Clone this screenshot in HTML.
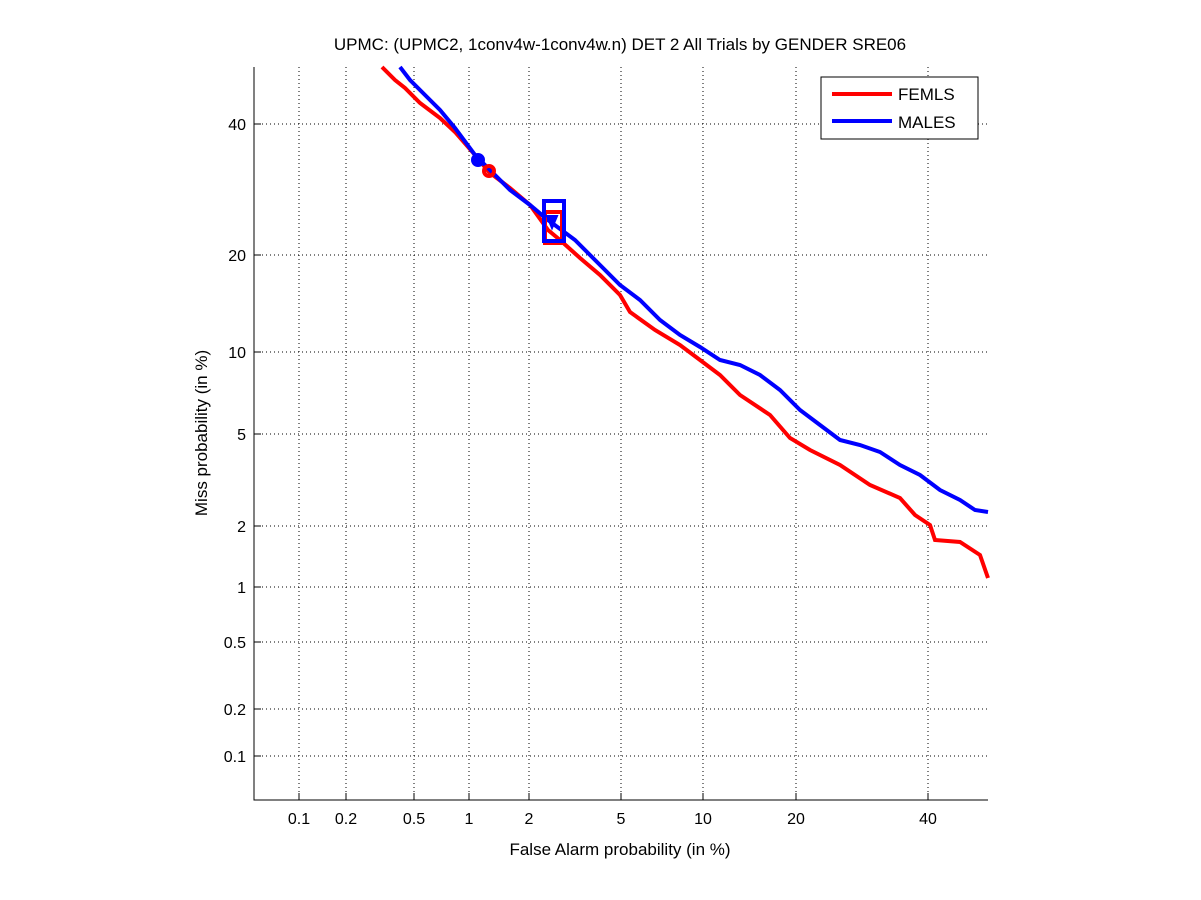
<!DOCTYPE html>
<html><head><style>body{margin:0;background:#fff}svg{display:block}text{font-family:"Liberation Sans",sans-serif}</style></head><body>
<svg width="1201" height="900" xmlns="http://www.w3.org/2000/svg">
<rect width="1201" height="900" fill="#fff"/>
<g stroke="#000" stroke-width="1" stroke-dasharray="1,3" fill="none">
<path d="M299 67V800M346 67V800M414 67V800M469 67V800M529 67V800M621 67V800M703 67V800M796 67V800M928 67V800"/>
<path d="M254 124H988M254 255H988M254 352H988M254 434H988M254 526H988M254 587H988M254 642H988M254 709H988M254 756H988"/>
</g>
<path d="M254 67V800H988" stroke="#000" fill="none"/>
<g stroke="#000"><path d="M299 800v-7M346 800v-7M414 800v-7M469 800v-7M529 800v-7M621 800v-7M703 800v-7M796 800v-7M928 800v-7M254 124h7M254 255h7M254 352h7M254 434h7M254 526h7M254 587h7M254 642h7M254 709h7M254 756h7"/></g>
<g font-size="16" text-anchor="middle">
<text x="299" y="824">0.1</text><text x="346" y="824">0.2</text><text x="414" y="824">0.5</text><text x="469" y="824">1</text><text x="529" y="824">2</text><text x="621" y="824">5</text><text x="703" y="824">10</text><text x="796" y="824">20</text><text x="928" y="824">40</text>
</g>
<g font-size="16" text-anchor="end">
<text x="246" y="130">40</text><text x="246" y="261">20</text><text x="246" y="358">10</text><text x="246" y="440">5</text><text x="246" y="532">2</text><text x="246" y="593">1</text><text x="246" y="648">0.5</text><text x="246" y="715">0.2</text><text x="246" y="762">0.1</text>
</g>
<text x="620" y="855" font-size="17" text-anchor="middle">False Alarm probability (in %)</text>
<text transform="translate(207,433) rotate(-90)" font-size="17" text-anchor="middle">Miss probability (in %)</text>
<text x="620" y="50" font-size="17" text-anchor="middle">UPMC: (UPMC2, 1conv4w-1conv4w.n) DET 2 All Trials by GENDER SRE06</text>
<polyline fill="none" stroke="#f00" stroke-width="4" points="382,67 395,80 405,88 420,103 440,118 455,132 475,155 489,172 510,188 530,205 548,230 560,240 580,258 600,275 620,295 630,312 655,330 680,345 700,360 720,375 740,395 770,415 790,438 810,450 840,465 870,485 900,498 915,515 930,525 935,540 960,542 980,555 988,578"/>
<polyline fill="none" stroke="#00f" stroke-width="4" points="400,67 410,80 425,95 440,110 455,128 475,155 490,170 510,190 530,205 548,220 575,240 600,265 620,285 640,300 660,320 680,335 700,347 720,360 740,365 760,375 780,390 800,410 820,425 840,440 860,445 880,452 900,465 920,475 940,490 960,500 975,510 988,512"/>
<circle cx="478" cy="160" r="6" fill="#00f" stroke="#00f" stroke-width="2"/>
<circle cx="489" cy="171" r="5" fill="none" stroke="#f00" stroke-width="4"/>
<rect x="545" y="212" width="17" height="31" fill="none" stroke="#f00" stroke-width="4"/>
<rect x="544" y="201" width="20" height="40" fill="none" stroke="#00f" stroke-width="4"/>
<path d="M547 216h10l-5 12z" fill="#00f" stroke="#00f" stroke-width="2"/>
<rect x="821" y="77" width="157" height="62" fill="#fff" stroke="#000"/>
<path d="M832 94h60" stroke="#f00" stroke-width="4"/><path d="M832 121h60" stroke="#00f" stroke-width="4"/>
<text x="898" y="100" font-size="17">FEMLS</text><text x="898" y="128" font-size="17">MALES</text>
</svg>
</body></html>
